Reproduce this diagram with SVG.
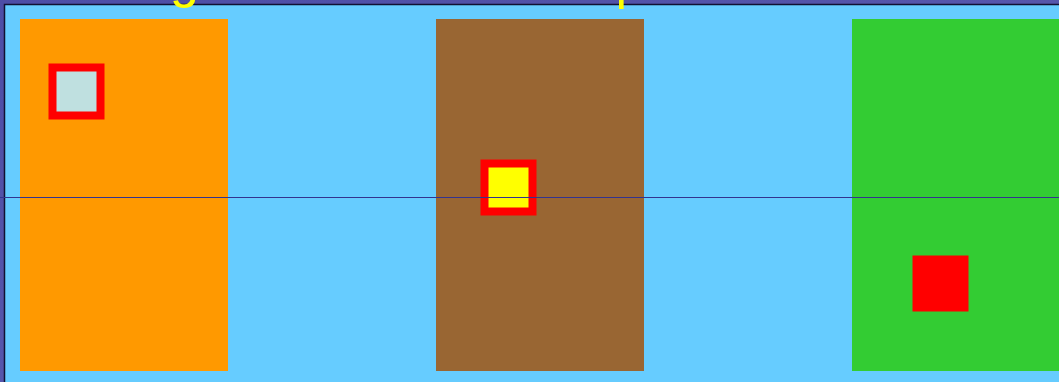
<svg xmlns="http://www.w3.org/2000/svg" width="1059" height="382" viewBox="0 0 1059 382">
  <defs>
    <linearGradient id="bg" x1="0" y1="0" x2="1" y2="1">
      <stop offset="0" stop-color="#4d4da6"/>
      <stop offset="0.5" stop-color="#5656ab"/>
      <stop offset="1" stop-color="#3b3b8e"/>
    </linearGradient>
  </defs>
  <style>
    .panel { stroke: none; }
    .frame { stroke: #ff0000; stroke-width: 8; }
    .title { font-family: "Liberation Sans", Arial, sans-serif; font-size: 52px; fill: #ffff00; }
  </style>
  <rect x="0" y="0" width="1059" height="382" fill="url(#bg)"/>
  <rect id="canvas" x="4.5" y="4.5" width="1070" height="400" fill="#66ccff" stroke="#111133" stroke-width="1.5"/>
  <g id="title">
    <text class="title" x="170" y="-3">g</text>
    <text class="title" x="615.5" y="-2">p</text>
  </g>
  <g id="orange-panel">
    <rect class="panel" x="20" y="19" width="208" height="352" fill="#ff9900"/>
  </g>
  <g id="brown-panel">
    <rect class="panel" x="436" y="19" width="208" height="352" fill="#996633"/>
  </g>
  <g id="green-panel">
    <rect class="panel" x="852" y="19" width="220" height="352" fill="#33cc33"/>
  </g>
  <g id="box-light">
    <rect class="frame" x="52.5" y="67.5" width="48" height="48" fill="#bfe0e0"/>
  </g>
  <g id="box-yellow">
    <rect class="frame" x="484.5" y="163.5" width="48" height="48" fill="#ffff00"/>
  </g>
  <g id="box-red">
    <rect x="912.5" y="255.5" width="56" height="56" fill="#ff0000"/>
  </g>
  <g id="connectors">
    <line x1="0" y1="197.5" x2="1059" y2="197.5" stroke="#33338f" stroke-width="1"/>
  </g>
</svg>
